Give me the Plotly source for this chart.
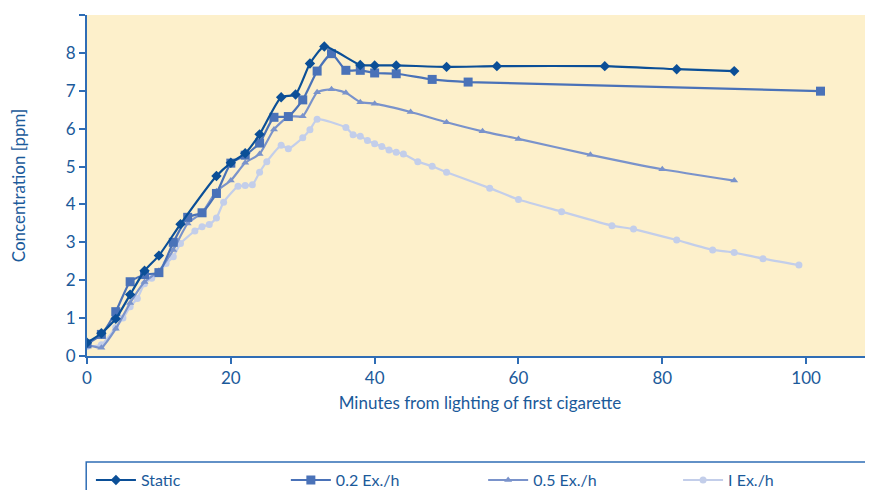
import plotly.graph_objects as go

# ---- data ----
static_x = [0, 2, 4, 6, 8, 10, 13, 18, 20, 22, 24, 27, 29, 31, 33, 38, 40, 43, 50, 57, 72, 82, 90]
static_y = [0.35, 0.6, 0.98, 1.62, 2.25, 2.65, 3.48, 4.75, 5.1, 5.35, 5.85, 6.83, 6.9, 7.72, 8.17, 7.68, 7.67, 7.67, 7.63, 7.65, 7.65, 7.57, 7.52]

ex02_x = [0, 2, 4, 6, 8, 10, 12, 14, 16, 18, 20, 22, 24, 26, 28, 30, 32, 34, 36, 38, 40, 43, 48, 53, 102]
ex02_y = [0.32, 0.57, 1.17, 1.96, 2.15, 2.2, 3.0, 3.66, 3.78, 4.29, 5.09, 5.3, 5.62, 6.3, 6.32, 6.76, 7.52, 7.98, 7.54, 7.54, 7.47, 7.45, 7.30, 7.23, 6.99]

ex05_x = [0, 2, 4, 6, 8, 10, 12, 14, 16, 18, 20, 22, 24, 26, 28, 30, 32, 34, 36, 38, 40, 45, 50, 55, 60, 70, 80, 90]
ex05_y = [0.3, 0.22, 0.72, 1.4, 1.95, 2.25, 2.8, 3.5, 3.78, 4.35, 4.63, 5.1, 5.33, 5.98, 6.32, 6.33, 6.96, 7.04, 6.95, 6.70, 6.66, 6.44, 6.17, 5.93, 5.73, 5.31, 4.93, 4.63]

ex1_x = [0, 2, 4, 5, 6, 7, 8, 9, 10, 11, 12, 13, 15, 16, 17, 18, 19, 21, 22, 23, 24, 25, 27, 28, 30, 31, 32,
         36, 37, 38, 39, 40, 41, 42, 43, 44, 46, 48, 50, 56, 60, 66, 73, 76, 82, 87, 90, 94, 99]
ex1_y = [0.25, 0.3, 0.75, 1.0, 1.3, 1.52, 1.91, 2.05, 2.2, 2.44, 2.62, 2.97, 3.3, 3.41, 3.47, 3.64, 4.06, 4.48, 4.5, 4.52, 4.85, 5.13, 5.56, 5.47, 5.76, 5.97, 6.25,
         6.03, 5.84, 5.8, 5.69, 5.6, 5.53, 5.44, 5.38, 5.33, 5.13, 5.01, 4.85, 4.43, 4.13, 3.81, 3.44, 3.35, 3.06, 2.8, 2.73, 2.57, 2.4]

x_ticks = [0, 20, 40, 60, 80, 100]
y_ticks = [0, 1, 2, 3, 4, 5, 6, 7, 8, 9]

names = ["Static", "0.2 Ex./h", "0.5 Ex./h", "I Ex./h"]
colors = ["#0B4F97", "#4A72B8", "#7A93CB", "#C3CEEA"]
symbols = ["diamond", "square", "triangle-up", "circle"]
sizes = [8, 9, 7, 7]
series = [(static_x, static_y), (ex02_x, ex02_y), (ex05_x, ex05_y), (ex1_x, ex1_y)]
legend_ids = ["legend", "legend2", "legend3", "legend4"]
legend_x = [0.005, 0.253, 0.504, 0.752]

FONT = "Lato"
TXT = "#1B5A9A"
AX = "#2F6DB5"

fig = go.Figure()
for i in [3, 2, 1, 0]:
    xs, ys = series[i]
    fig.add_trace(go.Scatter(
        x=xs, y=ys, name=names[i], mode="lines+markers",
        line=dict(color=colors[i], width=2.2, shape="spline", smoothing=0.5),
        marker=dict(symbol=symbols[i], size=sizes[i], color=colors[i]),
        legend=legend_ids[i],
    ))

legend_common = dict(orientation="h", xanchor="left", y=-0.364, yanchor="middle", itemwidth=40,
                     bgcolor="rgba(0,0,0,0)", font=dict(size=16, color=TXT), itemclick=False)

fig.update_layout(
    width=865, height=482,
    margin=dict(l=79, r=0, t=7, b=134, autoexpand=False),
    paper_bgcolor="white",
    plot_bgcolor="#FDF0CB",
    font=dict(family=FONT, color=TXT, size=16),
    xaxis=dict(range=[0, 109.3], tickvals=x_ticks, showgrid=False, zeroline=False, automargin=False,
               showline=True, linecolor=AX, linewidth=2, ticks="outside", tickcolor=AX,
               ticklen=6, tickwidth=2, tickfont=dict(size=17, color=TXT),
               title=dict(text="Minutes from lighting of first cigarette", font=dict(size=17, color=TXT), standoff=10)),
    yaxis=dict(range=[0, 9], tickvals=y_ticks, showgrid=False, zeroline=False, automargin=False,
               showline=True, linecolor=AX, linewidth=2, ticks="outside", tickcolor=AX,
               ticklen=6, tickwidth=2, tickfont=dict(size=17, color=TXT),
               title=dict(text="Concentration [ppm]", font=dict(size=17, color=TXT), standoff=40)),
    legend=dict(x=legend_x[0], **legend_common),
    legend2=dict(x=legend_x[1], **legend_common),
    legend3=dict(x=legend_x[2], **legend_common),
    legend4=dict(x=legend_x[3], **legend_common),
    showlegend=True,
)

fig.add_shape(type="rect", xref="paper", yref="paper", x0=-0.001, x1=1.01, y0=-0.6, y1=-0.311,
              line=dict(color=AX, width=1.5), fillcolor="rgba(0,0,0,0)", layer="below")

fig.write_html("out.html")
